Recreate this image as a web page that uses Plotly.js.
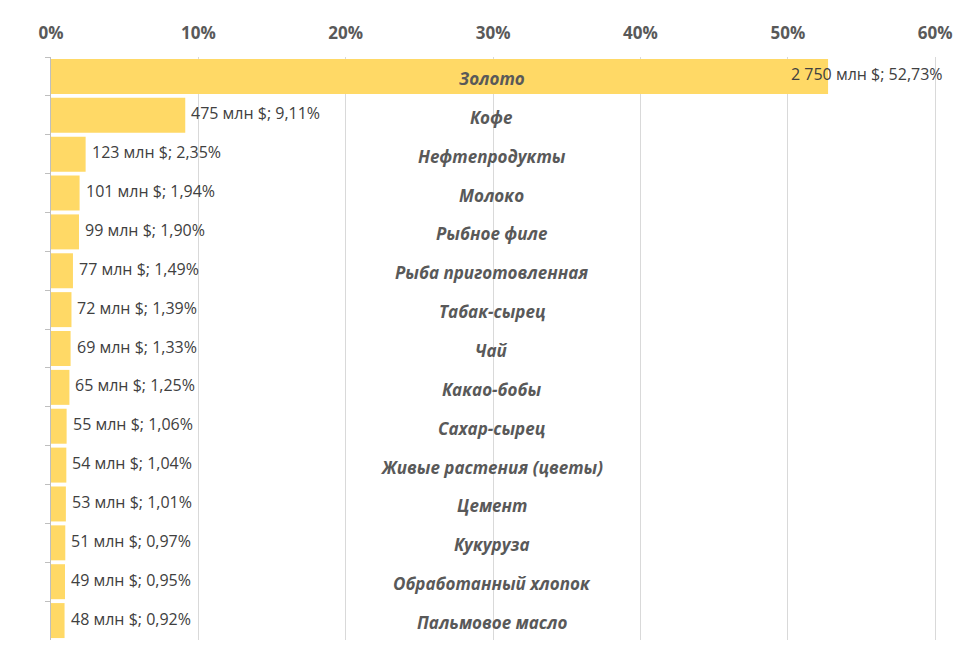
<!DOCTYPE html>
<html>
<head>
<meta charset="utf-8">
<script src="https://cdn.plot.ly/plotly-3.0.1.min.js"></script>
<style>body{margin:0;background:#fff}</style>
</head>
<body>
<div id="chart" style="width:980px;height:662px"></div>
<script>
var goods = ["Золото","Кофе","Нефтепродукты","Молоко","Рыбное филе","Рыба приготовленная","Табак-сырец","Чай","Какао-бобы","Сахар-сырец","Живые растения (цветы)","Цемент","Кукуруза","Обработанный хлопок","Пальмовое масло"];
var shares = [52.73,9.11,2.35,1.94,1.90,1.49,1.39,1.33,1.25,1.06,1.04,1.01,0.97,0.95,0.92];
var amounts = ["2 750","475","123","101","99","77","72","69","65","55","54","53","51","49","48"];

function pct(v){ return v.toFixed(2).replace(".", ",") + "%"; }

var ann = [];
for (var i = 0; i < goods.length; i++) {
  ann.push({
    x: 0.477, xref: "paper", y: goods[i], yref: "y",
    text: "<b><i>" + goods[i] + "</i></b>", showarrow: false,
    xanchor: "center", yshift: -2,
    font: {family: "Open Sans, sans-serif", size: 17, color: "#595959"}
  });
  ann.push({
    x: i == 0 ? shares[i] - 2.9 : shares[i], xref: "x", y: goods[i], yref: "y",
    text: amounts[i] + " млн $; " + pct(shares[i]), showarrow: false,
    xanchor: "left", xshift: 4, yshift: 2,
    font: {family: "Open Sans, sans-serif", size: 16, color: "#404040"}
  });
}

var data = [{
  type: "bar", orientation: "h",
  x: shares, y: goods,
  marker: {color: "#FFD966"},
  hoverinfo: "none"
}];

var layout = {
  margin: {l: 51, r: 5, t: 57, b: 22},
  bargap: 0.1,
  showlegend: false,
  plot_bgcolor: "#fff", paper_bgcolor: "#fff",
  xaxis: {
    side: "top", range: [0, 62.7], dtick: 10, ticksuffix: "%",
    showgrid: true, gridcolor: "#d9d9d9", gridwidth: 1,
    zeroline: false, showline: false, ticks: "", ticklabelstandoff: 14,
    tickfont: {family: "Open Sans, sans-serif", size: 17, color: "#595959", weight: "bold"}
  },
  yaxis: {
    autorange: "reversed", showticklabels: false,
    showline: true, linecolor: "#bfbfbf", ticks: "outside", ticklen: 5,
    tickcolor: "#bfbfbf", tickson: "boundaries", showgrid: false
  },
  annotations: ann
};

Plotly.newPlot("chart", data, layout, {displayModeBar: false});
</script>
</body>
</html>
